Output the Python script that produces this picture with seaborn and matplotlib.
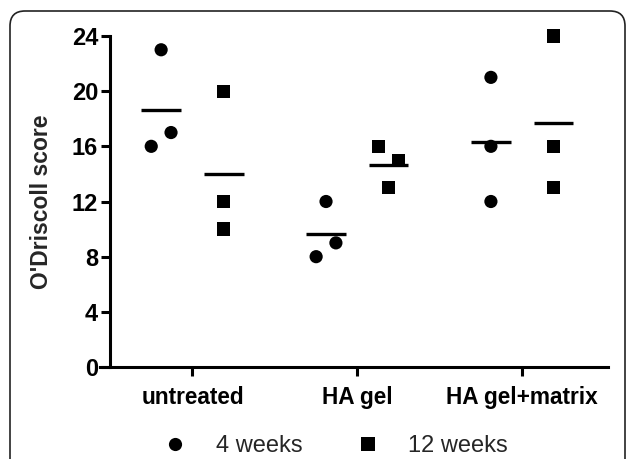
import matplotlib
matplotlib.use("Agg")
import matplotlib.pyplot as plt
import matplotlib.patches as mpatches
import seaborn as sns
import numpy as np
import pandas as pd

# O'Driscoll scores (listed left to right within ties)
groups = ["untreated", "HA gel", "HA gel+matrix"]
weeks = ["4 weeks", "12 weeks"]
untreated_4w = [23, 16, 17]
untreated_12w = [20, 12, 10]
hagel_4w = [12, 8, 9]
hagel_12w = [16, 15, 13]
hamatrix_4w = [21, 16, 12]
hamatrix_12w = [24, 16, 13]
y_ticks = [0, 4, 8, 12, 16, 20, 24]

values = {
    ("untreated", "4 weeks"): untreated_4w,
    ("untreated", "12 weeks"): untreated_12w,
    ("HA gel", "4 weeks"): hagel_4w,
    ("HA gel", "12 weeks"): hagel_12w,
    ("HA gel+matrix", "4 weeks"): hamatrix_4w,
    ("HA gel+matrix", "12 weeks"): hamatrix_12w,
}

rows = []
for (g, w), vals in values.items():
    for v in vals:
        rows.append({"group": g, "week": w, "score": v})
df = pd.DataFrame(rows)

# dodge the two time points, spread near-identical values sideways
dodge = {"4 weeks": -0.19, "12 weeks": 0.19}
spread = 0.12


def spread_offsets(scores):
    scores = np.asarray(scores)
    offs = np.zeros(len(scores))
    # group points whose values are within one unit of another
    seen = set()
    for i in range(len(scores)):
        if i in seen:
            continue
        cluster = [j for j in range(len(scores)) if abs(scores[j] - scores[i]) <= 1]
        seen.update(cluster)
        n = len(cluster)
        for k, idx in enumerate(cluster):
            offs[idx] = (k - (n - 1) / 2) * spread
    return offs


df["xpos"] = 0.0
for (g, w), sub in df.groupby(["group", "week"]):
    df.loc[sub.index, "xpos"] = groups.index(g) + dodge[w] + spread_offsets(sub["score"].values)

sns.set_theme(style="ticks")
plt.rcParams["font.family"] = ["Liberation Sans", "DejaVu Sans"]

fig = plt.figure(figsize=(6.29, 4.59), dpi=100)
ax = fig.add_axes([0.1749, 0.2004, 0.7917, 0.7212])

sns.scatterplot(
    data=df, x="xpos", y="score", style="week", style_order=weeks,
    markers={"4 weeks": "o", "12 weeks": "s"}, color="black",
    s=90, linewidth=0, ax=ax, legend=True,
)
for coll in ax.collections:
    coll.set_clip_on(False)

# mean lines
means = df.groupby(["group", "week"])["score"].mean()
for (g, w), m in means.items():
    cx = groups.index(g) + dodge[w]
    ax.hlines(m, cx - 0.12, cx + 0.12, color="black", linewidth=2.4)

ax.set_xlim(-0.5, 2.52)
ax.set_ylim(0, 24)
ax.set_xticks(range(len(groups)))
ax.set_xticklabels(groups, fontsize=16.3, fontweight="bold")
ax.set_yticks(y_ticks)
ax.set_yticklabels([str(t) for t in y_ticks], fontsize=17, fontweight="bold")
ax.set_xlabel("")
ax.set_ylabel("O'Driscoll score", fontsize=16.5, fontweight="bold")
ax.yaxis.set_label_coords(-0.114, 0.5)

for sp in ["top", "right"]:
    ax.spines[sp].set_visible(False)
for sp in ["left", "bottom"]:
    ax.spines[sp].set_linewidth(2.2)
    ax.spines[sp].set_color("black")
ax.spines["bottom"].set_bounds(-0.56, 2.52)
ax.spines["bottom"].set_clip_on(False)
ax.tick_params(axis="both", width=2.2, length=6.5, color="black", labelcolor="black")
ax.tick_params(axis="x", pad=7)
ax.tick_params(axis="y", pad=2)

handles, labels = ax.get_legend_handles_labels()
ax.get_legend().remove()
fig.legend(
    handles, labels, loc="center", bbox_to_anchor=(0.534, 0.028), ncol=2,
    frameon=False, fontsize=17, handlelength=1.0, handletextpad=1.2,
    columnspacing=2.3, markerscale=1.0,
)

# rounded frame around the panel
frame = mpatches.FancyBboxPatch(
    (0.10, -0.5), 6.15, 4.98,
    boxstyle="round,pad=0,rounding_size=0.15",
    transform=fig.dpi_scale_trans, fill=False,
    edgecolor="#222222", linewidth=1.2,
)
fig.patches.append(frame)

fig.savefig("out.png", dpi=100)
